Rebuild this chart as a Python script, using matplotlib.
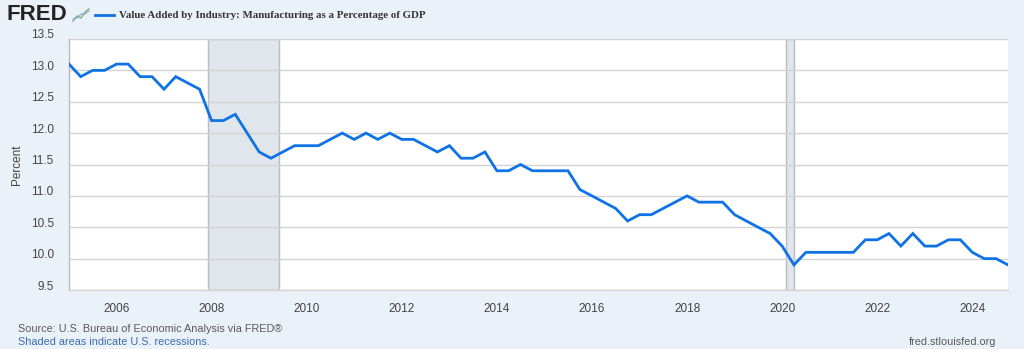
import matplotlib
matplotlib.use("Agg")
import matplotlib.pyplot as plt
import matplotlib.dates as mdates
import matplotlib.transforms as mtransforms
from matplotlib.lines import Line2D
import pandas as pd

# ---- data ----
start_quarter = "2005-01-01"
values = [
    13.1, 12.9, 13.0, 13.0,
    13.1, 13.1, 12.9, 12.9,
    12.7, 12.9, 12.8, 12.7,
    12.2, 12.2, 12.3, 12.0,
    11.7, 11.6, 11.7, 11.8,
    11.8, 11.8, 11.9, 12.0,
    11.9, 12.0, 11.9, 12.0,
    11.9, 11.9, 11.8, 11.7,
    11.8, 11.6, 11.6, 11.7,
    11.4, 11.4, 11.5, 11.4,
    11.4, 11.4, 11.4, 11.1,
    11.0, 10.9, 10.8, 10.6,
    10.7, 10.7, 10.8, 10.9,
    11.0, 10.9, 10.9, 10.9,
    10.7, 10.6, 10.5, 10.4,
    10.2, 9.9, 10.1, 10.1,
    10.1, 10.1, 10.1, 10.3,
    10.3, 10.4, 10.2, 10.4,
    10.2, 10.2, 10.3, 10.3,
    10.1, 10.0, 10.0, 9.9,
]
recessions = [("2007-12-01", "2009-06-01"), ("2020-02-01", "2020-04-01")]
y_ticks = [9.5, 10.0, 10.5, 11.0, 11.5, 12.0, 12.5, 13.0, 13.5]
x_tick_years = list(range(2006, 2025, 2))
title = "Value Added by Industry: Manufacturing as a Percentage of GDP"
y_label = "Percent"
source_text = "Source: U.S. Bureau of Economic Analysis via FRED®"
recession_note = "Shaded areas indicate U.S. recessions."
site_text = "fred.stlouisfed.org"

dates = pd.date_range(start_quarter, periods=len(values), freq="QS")

# ---- style ----
BG = "#eaf1f9"
LINE = "#0f72e5"
GRID = "#d3d3d3"

W, H = 1024, 349
fig = plt.figure(figsize=(W / 100, H / 100), dpi=100, facecolor=BG)
ax = fig.add_axes([69 / W, 1 - 290 / H, (1008 - 69) / W, (290 - 39) / H])
ax.set_facecolor("white")

for s, e in recessions:
    ax.axvspan(pd.Timestamp(s), pd.Timestamp(e), facecolor="#e1e6ec",
               edgecolor="#b8bcc2", linewidth=1.0, zorder=1)

ax.plot(dates, values, color=LINE, linewidth=2.0, zorder=3,
        solid_joinstyle="miter")

ax.set_xlim(pd.Timestamp("2005-01-01"), pd.Timestamp("2024-10-01"))
ax.set_ylim(9.5, 13.5)
ax.set_yticks(y_ticks)
ax.set_yticklabels([f"{v:.1f}" for v in y_ticks])
ax.set_xticks([pd.Timestamp(f"{y}-01-01") for y in x_tick_years])
ax.xaxis.set_major_formatter(mdates.DateFormatter("%Y"))

ax.grid(axis="y", color=GRID, linewidth=1.0, zorder=0)
ax.grid(axis="x", visible=False)
for side in ["top", "right"]:
    ax.spines[side].set_visible(False)
ax.spines["left"].set_color("#bbbbbb")
ax.spines["bottom"].set_color(GRID)
ax.spines["left"].set_linewidth(1.0)
ax.spines["bottom"].set_linewidth(1.0)

ax.tick_params(axis="both", length=0, labelsize=8.5, labelcolor="#444444")
ax.tick_params(axis="y", pad=11)
ax.tick_params(axis="x", pad=9)
off = mtransforms.ScaledTranslation(0, 5 / 100, fig.dpi_scale_trans)
for lab in ax.get_yticklabels():
    lab.set_transform(lab.get_transform() + off)
    lab.set_family("Liberation Sans")
for lab in ax.get_xticklabels():
    lab.set_family("Liberation Sans")

fig.text(17 / W, 1 - 165 / H, y_label, rotation=90, ha="center", va="center",
         fontsize=8.5, color="#444444", family="Liberation Sans")

# header
fig.text(7 / W, 1 - 15 / H, "FRED", ha="left", va="center", fontsize=16,
         fontweight="bold", color="#222222", family="Liberation Sans")
fig.add_artist(Line2D([73 / W, 77 / W, 81 / W, 85 / W, 89 / W],
                      [1 - 21 / H, 1 - 16 / H, 1 - 18 / H, 1 - 12 / H, 1 - 9 / H],
                      color="#7fae7a", linewidth=1.0))
fig.add_artist(Line2D([73 / W, 77 / W, 81 / W, 85 / W, 89 / W],
                      [1 - 19 / H, 1 - 18 / H, 1 - 14 / H, 1 - 14 / H, 1 - 11 / H],
                      color="#8aa9d6", linewidth=0.8))
fig.add_artist(Line2D([95 / W, 114 / W], [1 - 15 / H, 1 - 15 / H],
                      color=LINE, linewidth=2.0))
fig.text(119 / W, 1 - 15 / H, title, ha="left", va="center", fontsize=7.8,
         fontweight="bold", color="#333333", family="Liberation Serif")

# footer
fig.text(18 / W, 1 - 329 / H, source_text, ha="left", va="center", fontsize=7.8,
         color="#5a5a5a", family="Liberation Sans")
fig.text(18 / W, 1 - 342 / H, recession_note, ha="left", va="center", fontsize=7.8,
         color="#3b6db0", family="Liberation Sans")
fig.text(996 / W, 1 - 342 / H, site_text, ha="right", va="center", fontsize=7.8,
         color="#5a5a5a", family="Liberation Sans")

fig.savefig("out.png", dpi=100, facecolor=BG)
